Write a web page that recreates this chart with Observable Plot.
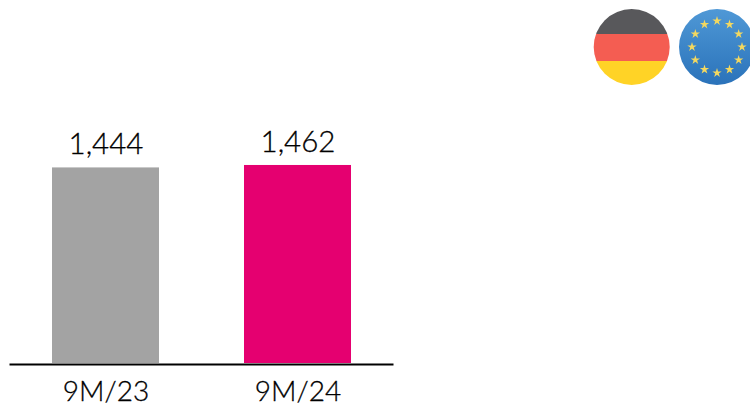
<!DOCTYPE html>
<html>
<head>
<meta charset="utf-8">
<script src="https://cdn.jsdelivr.net/npm/d3@7"></script>
<script src="https://cdn.jsdelivr.net/npm/@observablehq/plot@0.6"></script>
<style>
html,body{margin:0;padding:0;background:#fff;overflow:hidden}
#wrap{position:relative;width:750px;height:407px}
#wrap>svg{position:absolute;left:0;top:0}
#wrap svg text{stroke:#000;stroke-width:.3px}
</style>
</head>
<body>
<div id="wrap"></div>
<script>
const periods = ["9M/23", "9M/24"];
const values = [1444, 1462];
const labels = ["1,444", "1,462"];
const colors = ["#a3a3a3", "#e50070"];
const fontFamily = "Lato, sans-serif";

const table = periods.map((p, i) => ({period: p, value: values[i], label: labels[i], color: colors[i]}));

const chart = Plot.plot({
  width: 750,
  height: 407,
  marginLeft: 9.5,
  marginRight: 356.5,
  marginTop: 0,
  marginBottom: 44,
  style: {fontFamily, background: "transparent", overflow: "visible"},
  x: {domain: periods, paddingInner: 0.443, paddingOuter: 0.2215, label: null, tickSize: 0},
  y: {domain: [0, 2680], axis: null},
  marks: [
    Plot.barY(table, {x: "period", y: "value", fill: "color"}),
    Plot.ruleY([0], {stroke: "#000", strokeWidth: 2, dy: 1}),
    Plot.text(table, {x: "period", y: "value", text: "label", dy: -23, fontSize: 29.5, fill: "#000", fontWeight: 300}),
    Plot.axisX({tickSize: 0, tickPadding: 18, fontSize: 28, fontWeight: 300, color: "#000", label: null})
  ]
});
document.getElementById("wrap").appendChild(chart);

// Flag badges
const NS = "http://www.w3.org/2000/svg";
const flags = d3.select("#wrap").append("svg")
  .attr("xmlns", NS).attr("width", 750).attr("height", 407)
  .style("pointer-events", "none");
const defs = flags.append("defs");
const grad = defs.append("linearGradient").attr("id", "euBlue").attr("x1", 0).attr("y1", 0).attr("x2", 0).attr("y2", 1);
grad.append("stop").attr("offset", "0%").attr("stop-color", "#4f98d6");
grad.append("stop").attr("offset", "100%").attr("stop-color", "#2a72ba");
defs.append("clipPath").attr("id", "deClip").append("circle").attr("cx", 631.7).attr("cy", 47).attr("r", 38);

const de = flags.append("g").attr("clip-path", "url(#deClip)");
[["#58585b", 9, 25], ["#f45d52", 34, 27], ["#ffd326", 61, 24]].forEach(([c, y, h]) =>
  de.append("rect").attr("x", 590).attr("y", y).attr("width", 84).attr("height", h).attr("fill", c));

flags.append("circle").attr("cx", 717).attr("cy", 47).attr("r", 38).attr("fill", "url(#euBlue)");
const star = d3.symbol(d3.symbolStar, 27);
d3.range(12).forEach(i => {
  const a = i * Math.PI / 6;
  flags.append("path").attr("d", star())
    .attr("transform", `translate(${717 + 25 * Math.sin(a)},${47 - 26 * Math.cos(a)})`)
    .attr("fill", "#f3d860");
});
</script>
</body>
</html>
